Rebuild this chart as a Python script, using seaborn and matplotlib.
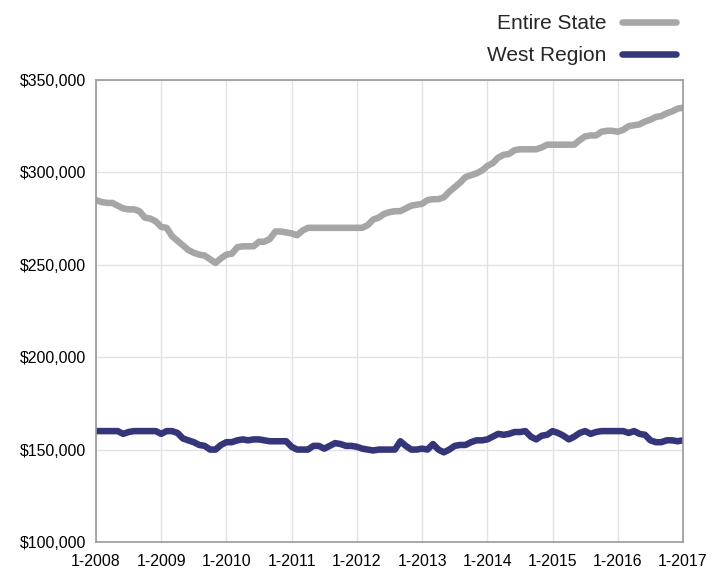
import matplotlib
matplotlib.use('Agg')
import matplotlib.pyplot as plt
import seaborn as sns
import numpy as np
import pandas as pd
from matplotlib.ticker import FuncFormatter

# monthly median values, Jan 2008 .. Jan 2017 (in $1000s)
entire_state = [
    285, 284, 283.5, 283.5, 282, 280.5, 280, 280, 279, 275.5, 275, 273.5,
    270.5, 270, 265.5, 263, 260.5, 258, 256.5, 255.5, 255, 253, 251, 253.5,
    255.5, 256, 259.5, 260, 260, 260, 262.5, 262.5, 264, 268, 268, 267.5,
    267, 266, 268.5, 270, 270, 270, 270, 270, 270, 270, 270, 270,
    270, 270, 271.5, 274.5, 275.5, 277.5, 278.5, 279, 279, 280.5, 282, 282.5,
    283, 285, 285.5, 285.5, 286.5, 289.5, 292, 294.5, 297.5, 298.5, 299.5, 301,
    303.5, 305, 308, 309.5, 310, 312, 312.5, 312.5, 312.5, 312.5, 313.5, 315,
    315, 315, 315, 315, 315, 317.5, 319.5, 320, 320, 322, 322.5, 322.5,
    322, 323, 325, 325.5, 326, 327.5, 328.5, 330, 330.5, 332, 333, 334.5,
    335,
]
west_region = [
    160, 160, 160, 160, 160, 158.5, 159.5, 160, 160, 160, 160, 160,
    158.5, 160, 160, 159, 156, 155, 154, 152.5, 152, 150, 150, 152.5,
    154, 154, 155, 155.5, 155, 155.5, 155.5, 155, 154.5, 154.5, 154.5, 154.5,
    151.5, 150, 150, 150, 152, 152, 150.5, 152, 153.5, 153, 152, 152,
    151.5, 150.5, 150, 149.5, 150, 150, 150, 150, 154.5, 152, 150, 150,
    150.5, 150, 153, 150, 148.5, 150, 152, 152.5, 152.5, 154, 155, 155,
    155.5, 157, 158.5, 158, 158.5, 159.5, 159.5, 160, 157, 155.5, 157.5, 158,
    160, 159, 157.5, 155.5, 157, 159, 160, 158.5, 159.5, 160, 160, 160,
    160, 160, 159, 160, 158.5, 158, 155, 154, 154, 155, 155, 154.5,
    155,
]
years = list(range(2008, 2018))
series_names = ['Entire State', 'West Region']
colors = ['#a6a6a6', '#35357a']

months = np.arange(len(entire_state))
df = pd.DataFrame({
    'month': np.concatenate([months, months]),
    'value': np.array(entire_state + west_region) * 1000,
    'series': [series_names[0]] * len(entire_state) + [series_names[1]] * len(west_region),
})

sns.set_style('white')
plt.rcParams['font.family'] = ['Liberation Sans', 'DejaVu Sans']

fig = plt.figure(figsize=(7.21, 5.69), dpi=100)
ax = fig.add_axes([0.1331, 0.0475, 0.8142, 0.8119])

sns.lineplot(data=df, x='month', y='value', hue='series', palette=dict(zip(series_names, colors)),
             linewidth=4.7, ax=ax, legend=False, solid_capstyle='round')

ax.set_xlim(0, 108)
ax.set_ylim(100000, 350000)
ax.set_xticks([12 * i for i in range(len(years))])
ax.set_xticklabels([f'1-{y}' for y in years])
ax.set_yticks(range(100000, 350001, 50000))
ax.yaxis.set_major_formatter(FuncFormatter(lambda v, p: f'${v:,.0f}'))
ax.grid(True, color='#e2e2e2', linewidth=1)
ax.set_axisbelow(True)
for s in ax.spines.values():
    s.set_color('#999999')
    s.set_linewidth(1.2)
ax.tick_params(axis='both', which='major', length=4, width=1, color='#999999',
               labelsize=11.4, labelcolor='black', pad=3)
ax.tick_params(axis='x', pad=5)
ax.set_xlabel('')
ax.set_ylabel('')

handles = [plt.Line2D([0], [0], color=c, lw=4.7, solid_capstyle='round') for c in colors]
fig.legend(handles, series_names, loc='upper right', bbox_to_anchor=(0.9635, 1.008),
           frameon=False, markerfirst=False, fontsize=15, handlelength=2.6,
           labelspacing=0.63, handletextpad=0.75)

fig.savefig('out.png', dpi=100)
